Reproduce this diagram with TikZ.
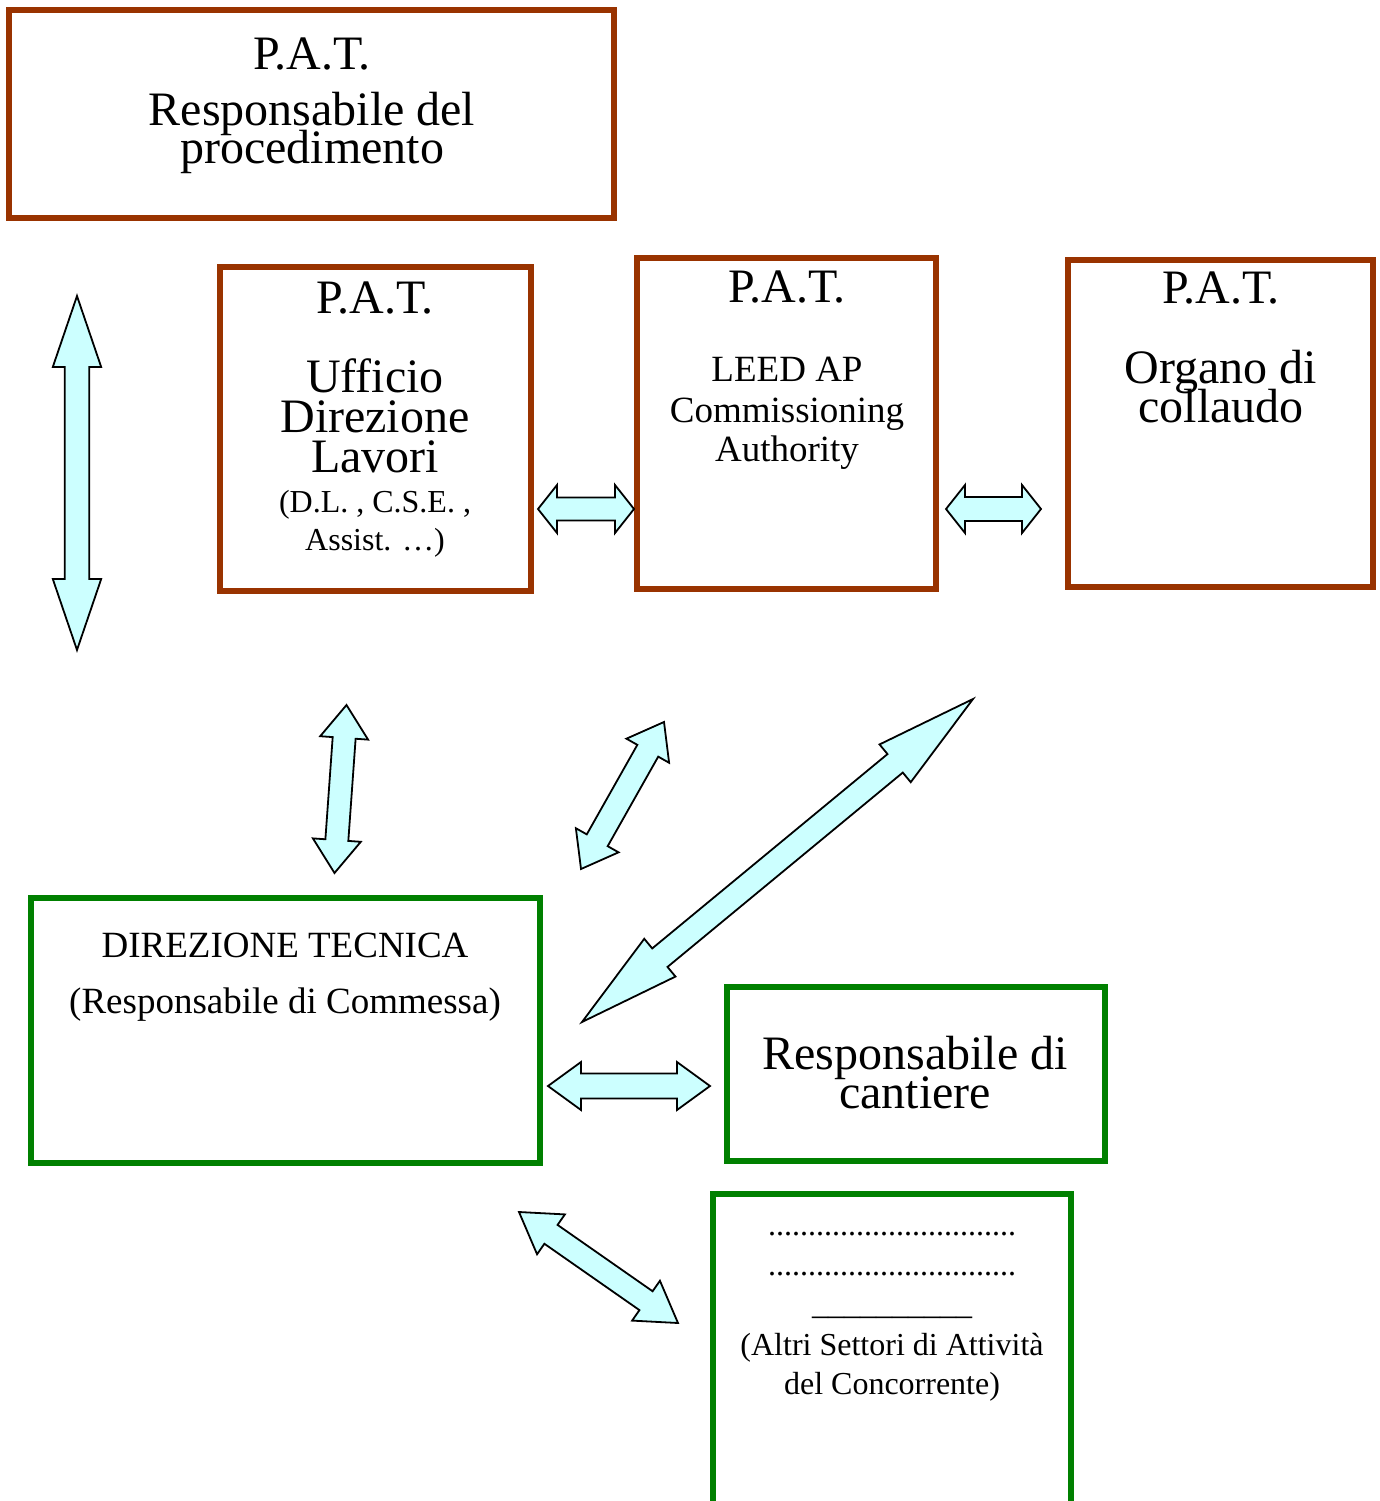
\documentclass[tikz,border=0pt]{standalone}
\usepackage{fontspec}
\setmainfont{Liberation Serif}
\usetikzlibrary{calc}
\definecolor{brownb}{HTML}{993300}
\definecolor{greenb}{HTML}{008000}
\definecolor{cyanf}{HTML}{CCFFFF}
\newcommand{\blockarr}[5]{%
  \draw[barrow] let \p1=(#1), \p2=(#2), \n1={atan2(\y2-\y1,\x2-\x1)} in
    (\p1) -- ($(\p1)+(\n1:#3)+(\n1+90:#4)$) -- ($(\p1)+(\n1:#3)+(\n1+90:#5)$)
    -- ($(\p2)+(\n1+180:#3)+(\n1+90:#5)$) -- ($(\p2)+(\n1+180:#3)+(\n1+90:#4)$)
    -- (\p2) -- ($(\p2)+(\n1+180:#3)+(\n1-90:#4)$) -- ($(\p2)+(\n1+180:#3)+(\n1-90:#5)$)
    -- ($(\p1)+(\n1:#3)+(\n1-90:#5)$) -- ($(\p1)+(\n1:#3)+(\n1-90:#4)$) -- cycle;}
\begin{document}
\begin{tikzpicture}[x=1pt,y=-1pt,
  bbox/.style={draw=brownb, line width=6pt, inner sep=0pt, outer sep=0pt},
  gbox/.style={draw=greenb, line width=6pt, inner sep=0pt, outer sep=0pt},
  lbl/.style={anchor=base, inner sep=0pt, outer sep=0pt, text=black},
  big/.style={lbl, font=\fontsize{48}{48}\selectfont},
  mid/.style={lbl, font=\fontsize{37}{37}\selectfont},
  sml/.style={lbl, font=\fontsize{32}{32}\selectfont},
  barrow/.style={draw=black, fill=cyanf, line width=1.8pt, line join=miter}]
\useasboundingbox (0,0) rectangle (1380,1501);
\clip (0,0) rectangle (1380,1501);
\fill[white] (0,0) rectangle (1380,1501);

% boxes
\node[bbox, minimum width=605pt, minimum height=208pt] (rp) at (311.5,114) {};
\node[bbox, minimum width=311pt, minimum height=324pt] (dl) at (375.5,429) {};
\node[bbox, minimum width=299pt, minimum height=331pt] (leed) at (786.5,423.5) {};
\node[bbox, minimum width=305pt, minimum height=327pt] (oc) at (1220.5,423.5) {};
\node[gbox, minimum width=509pt, minimum height=265pt] (dt) at (285.5,1030.5) {};
\node[gbox, minimum width=378pt, minimum height=174pt] (rc) at (916,1074) {};
\node[gbox, minimum width=358pt, minimum height=366pt] (as) at (892,1377) {};

% texts
\node[big] (rp1) at (312,70) {P.A.T.};
\node[big] (rp2) at (312,126) {Responsabile del};
\node[big] (rp3) at (312,163) {procedimento};

\node[big] (dl1) at (375,313) {P.A.T.};
\node[big] (dl2) at (375,392) {Ufficio};
\node[big] (dl3) at (375,432) {Direzione};
\node[big] (dl4) at (375,472) {Lavori};
\node[sml] (dl5) at (375,512) {(D.L. , C.S.E. ,};
\node[sml] (dl6) at (375,550) {Assist. …)};

\node[big] (le1) at (787,302) {P.A.T.};
\node[mid] (le2) at (787,381) {LEED AP};
\node[mid] (le3) at (787,422) {Commissioning};
\node[mid] (le4) at (787,461) {Authority};

\node[big] (oc1) at (1221,303) {P.A.T.};
\node[big] (oc2) at (1221,383) {Organo di};
\node[big] (oc3) at (1221,422) {collaudo};

\node[mid] (dt1) at (285,957) {DIREZIONE TECNICA};
\node[mid] (dt2) at (285,1013) {(Responsabile di Commessa)};

\node[big] (rc1) at (915,1069) {Responsabile di};
\node[big] (rc2) at (915,1108) {cantiere};

\node[sml] (as1) at (892,1235) {...............................};
\node[sml] (as2) at (892,1275) {...............................};
\node[sml] (as3) at (892,1314) {\_\_\_\_\_\_\_\_\_\_};
\node[sml] (as4) at (892,1355) {(Altri Settori di Attività};
\node[sml] (as5) at (892,1394) {del Concorrente)};

% arrow end points
\coordinate (a1s) at (77,296);   \coordinate (a1e) at (77,650);
\coordinate (a2s) at (538,509);  \coordinate (a2e) at (634,509);
\coordinate (a3s) at (946,509);  \coordinate (a3e) at (1041,509);
\coordinate (a6s) at (346.5,705); \coordinate (a6e) at (334.5,873);
\coordinate (a4s) at (664,722);  \coordinate (a4e) at (581,869);
\coordinate (a5s) at (973,699);  \coordinate (a5e) at (582,1022);
\coordinate (a7s) at (548,1086); \coordinate (a7e) at (710,1086);
\coordinate (a8s) at (519,1212); \coordinate (a8e) at (678,1323);

\blockarr{a1s}{a1e}{71pt}{24.2pt}{12.3pt}
\blockarr{a2s}{a2e}{19pt}{24pt}{11.5pt}
\blockarr{a3s}{a3e}{19pt}{24pt}{12pt}
\blockarr{a6s}{a6e}{33pt}{24pt}{11.5pt}
\blockarr{a4s}{a4e}{33pt}{24.5pt}{12pt}
\blockarr{a5s}{a5e}{101pt}{24.5pt}{12pt}
\blockarr{a7s}{a7e}{33pt}{24pt}{12.5pt}
\blockarr{a8s}{a8e}{39pt}{24.3pt}{11.5pt}
\end{tikzpicture}
\end{document}
